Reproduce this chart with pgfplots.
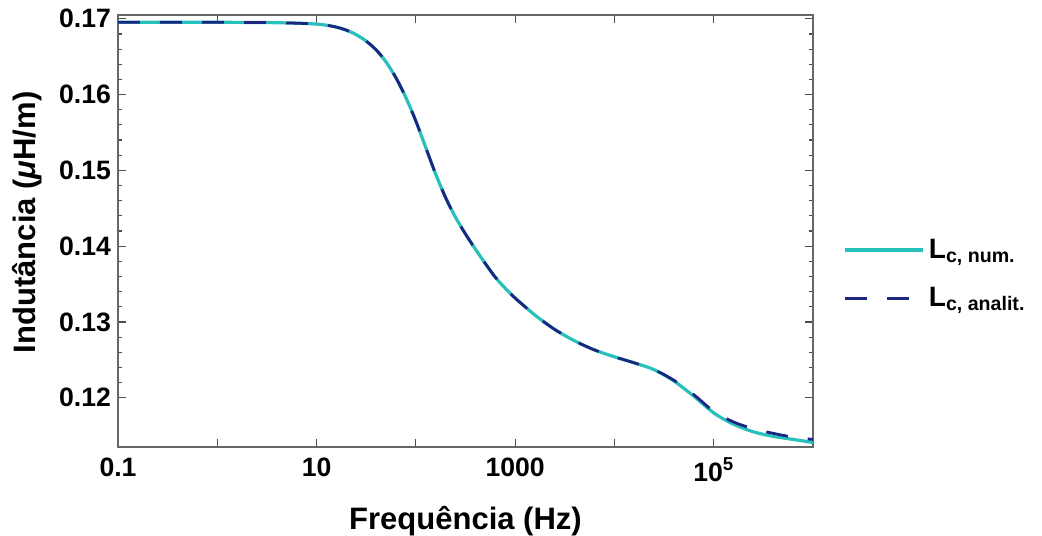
\documentclass[border=0pt]{standalone}
\usepackage{fontspec}
\setmainfont{Liberation Sans}
\usepackage{pgfplots}
\pgfplotsset{compat=1.18}
\definecolor{numc}{RGB}{40,192,186}
\definecolor{anac}{RGB}{28,38,128}
\begin{document}
\begin{tikzpicture}
\begin{axis}[
  scale only axis,
  width=347.5pt, height=216pt,
  xmode=log,
  xmin=0.1, xmax=1e6,
  ymin=0.1135, ymax=0.1705,
  axis line style={black!60, line width=0.6pt},
  tick style={black!70, line width=0.6pt},
  tick align=inside,
  major tick length=4pt,
  minor tick length=2.2pt,
  xtick={0.1,1,10,100,1000,1e4,1e5,1e6},
  xticklabels={0.1,,10,,1000,,10\textsuperscript{5},},
  xminorticks=false,
  ytick={0.12,0.13,0.14,0.15,0.16,0.17},
  yticklabels={0.12,0.13,0.14,0.15,0.16,0.17},
  minor y tick num=4,
  tick label style={font=\bfseries\fontsize{13.3}{15}\selectfont},
  xticklabel style={yshift=-2pt},
  xlabel={Frequência (Hz)},
  ylabel={Indutância (\textit{μ}H/m)},
  label style={font=\bfseries\fontsize{15.5}{17}\selectfont},
  xlabel style={at={(axis description cs:0.5,-0.172)}, anchor=center},
  ylabel style={at={(axis description cs:-0.13,0.52)}, anchor=center, rotate=0},
  legend style={at={(axis description cs:1.035,0.40)}, anchor=west, draw=none, fill=none,
    font=\bfseries\fontsize{14}{16}\selectfont, row sep=9pt,
    /tikz/every even column/.append style={column sep=0pt}},
  legend cell align=left,
  legend image code/.code={\draw[#1] (0pt,0pt) -- (39pt,0pt);},
]
\coordinate (O) at (rel axis cs:0,0);
\addplot[numc, line width=1.6pt, smooth] coordinates {
(0.1,0.16955) (0.3162,0.16955) (1,0.16954) (3.162,0.16950) (6.310,0.16942)
(10,0.16930) (12.59,0.16915) (15.85,0.16890) (19.95,0.16850) (25.12,0.16790)
(31.62,0.16705) (39.81,0.16590) (50.12,0.16430) (63.10,0.16220) (79.43,0.15960)
(100,0.15650) (125.9,0.15300) (158.5,0.14950) (199.5,0.14640) (251.2,0.14380)
(316.2,0.14160) (398.1,0.13960) (501.2,0.13770) (631.0,0.13590) (794.3,0.13445)
(1000,0.13315) (1585,0.13090) (2512,0.12900) (3981,0.12750) (6310,0.12630)
(10000,0.12540) (15849,0.12460) (25119,0.12370) (39811,0.12220) (63096,0.12020)
(100000,0.11800) (158489,0.11650) (251189,0.11550) (398107,0.11490) (630957,0.11450)
(1000000,0.11410)
};
\addlegendentry{L\textsubscript{c, num.}}
\addplot[anac, line width=1.4pt, smooth, dash pattern=on 11pt off 10pt] coordinates {
(0.1,0.16955) (0.3162,0.16955) (1,0.16954) (3.162,0.16950) (6.310,0.16942)
(10,0.16930) (12.59,0.16915) (15.85,0.16890) (19.95,0.16850) (25.12,0.16790)
(31.62,0.16705) (39.81,0.16590) (50.12,0.16430) (63.10,0.16220) (79.43,0.15960)
(100,0.15650) (125.9,0.15300) (158.5,0.14950) (199.5,0.14640) (251.2,0.14380)
(316.2,0.14160) (398.1,0.13960) (501.2,0.13770) (631.0,0.13590) (794.3,0.13445)
(1000,0.13315) (1585,0.13090) (2512,0.12900) (3981,0.12750) (6310,0.12630)
(10000,0.12540) (15849,0.12460) (25119,0.12370) (39811,0.12230) (63096,0.12040)
(100000,0.11820) (158489,0.11680) (251189,0.11590) (398107,0.11530) (630957,0.11480)
(1000000,0.11450)
};
\addlegendentry{L\textsubscript{c, analit.}}
\end{axis}
\pgfresetboundingbox
\path (O) ++(-59pt,-44pt) rectangle ++(521pt,267.5pt);
\end{tikzpicture}
\end{document}
